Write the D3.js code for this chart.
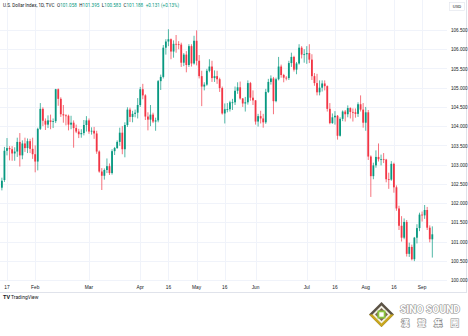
<!DOCTYPE html>
<html><head><meta charset="utf-8">
<script src="https://cdn.jsdelivr.net/npm/d3@7"></script>
<style>html,body{margin:0;padding:0;background:#fff;}svg{display:block;font-family:Roboto,"Liberation Sans",Arial,sans-serif;}</style>
</head><body>
<div id="chart"></div>
<script>
const dates = [
"01-15","01-16","01-17","01-18","01-19","01-22","01-23","01-24","01-25","01-26","01-29","01-30","01-31",
"02-01","02-02","02-05","02-06","02-07","02-08","02-09","02-12","02-13","02-14","02-15","02-16","02-19","02-20","02-21","02-22","02-23","02-26","02-27","02-28","02-29",
"03-01","03-04","03-05","03-06","03-07","03-08","03-11","03-12","03-13","03-14","03-15","03-18","03-19","03-20","03-21","03-22","03-25","03-26","03-27","03-28",
"04-01","04-02","04-03","04-04","04-05","04-08","04-09","04-10","04-11","04-12","04-15","04-16","04-17","04-18","04-19","04-22","04-23","04-24","04-25","04-26","04-29","04-30",
"05-01","05-02","05-03","05-06","05-07","05-08","05-09","05-10","05-13","05-14","05-15","05-16","05-17","05-20","05-21","05-22","05-23","05-24","05-27","05-28","05-29","05-30","05-31",
"06-03","06-04","06-05","06-06","06-07","06-10","06-11","06-12","06-13","06-14","06-17","06-18","06-19","06-20","06-21","06-24","06-25","06-26","06-27","06-28",
"07-01","07-02","07-03","07-04","07-05","07-08","07-09","07-10","07-11","07-12","07-15","07-16","07-17","07-18","07-19","07-22","07-23","07-24","07-25","07-26","07-29","07-30","07-31",
"08-01","08-02","08-05","08-06","08-07","08-08","08-09","08-12","08-13","08-14","08-15","08-16","08-19","08-20","08-21","08-22","08-23","08-26","08-27","08-28","08-29","08-30",
"09-02","09-03","09-04","09-05","09-06"];

const open = [
102.40,102.60,103.36,103.43,103.40,103.29,103.34,103.59,103.24,103.55,103.43,103.61,103.41,
103.27,103.08,103.93,104.45,104.14,104.04,104.15,104.11,104.13,104.96,104.71,104.31,104.28,104.27,104.04,104.09,103.95,103.86,103.79,103.82,104.03,
104.15,103.86,103.88,103.81,103.34,102.82,102.71,102.86,102.96,102.78,103.35,103.43,103.59,103.83,103.40,104.03,104.43,104.24,104.32,104.35,
104.55,104.96,104.80,104.25,104.17,104.30,104.12,104.15,105.17,105.28,106.04,106.20,106.26,105.94,106.14,106.13,106.12,105.65,105.86,105.59,106.08,105.63,
106.22,105.70,105.30,105.03,105.08,105.44,105.55,105.25,105.30,105.22,104.99,104.33,104.44,104.44,104.62,104.62,104.92,105.01,104.72,104.59,104.62,105.12,104.74,
104.67,104.12,104.26,104.20,104.10,104.89,105.15,105.24,104.65,105.22,105.55,105.33,105.26,105.25,105.64,105.80,105.47,105.63,106.04,105.86,
105.87,105.90,105.73,105.30,105.12,104.88,105.00,105.11,105.04,104.45,104.08,104.23,104.27,103.75,104.19,104.38,104.31,104.47,104.37,104.36,104.32,104.57,104.43,
104.09,104.36,103.21,102.70,102.98,103.20,103.14,103.14,103.13,102.62,102.61,103.02,102.41,101.86,101.41,101.10,101.51,100.68,100.86,100.54,101.10,101.35,
101.70,101.68,101.82,101.36,101.058];

const high = [
102.66,103.46,103.69,103.48,103.48,103.45,103.70,103.82,103.63,103.70,103.68,103.67,103.70,
103.50,103.96,104.60,104.49,104.20,104.28,104.30,104.20,104.97,104.98,104.75,104.55,104.31,104.30,104.27,104.15,104.04,103.93,103.92,104.16,104.26,
104.20,103.97,103.98,103.88,103.37,102.91,102.90,103.16,103.03,103.40,103.46,103.63,103.96,104.00,104.10,104.49,104.48,104.40,104.43,104.73,
105.02,105.10,104.83,104.36,104.55,104.35,104.22,105.20,105.34,106.11,106.26,106.52,106.28,106.23,106.37,106.21,106.17,105.90,105.95,106.13,106.13,106.35,
106.49,105.85,105.44,105.14,105.49,105.74,105.70,105.45,105.44,105.26,105.03,104.59,104.60,104.66,104.71,105.03,105.14,105.16,104.73,104.76,105.19,105.15,104.93,
104.68,104.32,104.40,104.32,104.97,105.23,105.32,105.28,105.26,105.80,105.60,105.36,105.30,105.70,105.91,105.83,105.67,106.13,106.08,106.00,
106.08,106.13,105.87,105.38,105.36,105.19,105.19,105.19,105.06,104.60,104.33,104.39,104.29,104.23,104.41,104.42,104.54,104.49,104.46,104.46,104.62,104.80,104.60,
104.50,104.42,103.24,103.05,103.37,103.55,103.26,103.30,103.15,102.79,103.09,103.05,102.46,101.93,101.66,101.60,101.56,100.97,100.92,101.12,101.45,101.75,
101.78,101.95,101.90,101.42,101.395];

const low = [
102.33,102.55,103.24,103.11,103.10,103.10,103.20,102.95,103.14,103.33,103.30,103.30,103.15,
102.80,102.85,103.90,104.00,103.90,103.95,103.92,103.95,104.08,104.53,104.24,104.09,104.02,103.89,103.92,103.44,103.82,103.69,103.70,103.76,103.86,
103.80,103.78,103.67,103.28,102.79,102.34,102.61,102.78,102.73,102.74,103.25,103.41,103.49,103.27,103.19,103.98,104.11,104.10,104.23,104.20,
104.50,104.70,104.16,103.89,104.00,104.08,103.88,104.10,104.94,105.24,105.86,106.08,105.74,105.78,105.91,106.00,105.54,105.56,105.40,105.54,105.55,105.60,
105.58,105.24,104.52,104.93,105.05,105.40,105.15,105.15,105.10,104.89,104.30,104.07,104.36,104.38,104.42,104.55,104.84,104.69,104.50,104.38,104.56,104.66,104.55,
104.04,103.99,104.07,103.96,104.06,104.86,105.08,104.31,104.62,105.19,105.26,105.14,105.19,105.20,105.54,105.42,105.35,105.60,105.76,105.65,
105.62,105.64,105.20,105.05,104.80,104.80,104.90,104.93,104.38,104.05,104.06,104.04,103.65,103.73,104.13,104.12,104.23,104.20,104.12,104.22,104.24,104.38,103.96,
103.88,103.12,102.16,102.62,102.92,103.08,102.98,103.04,102.54,102.37,102.58,102.27,101.80,101.30,101.00,101.06,100.61,100.60,100.51,100.49,100.95,101.27,
101.52,101.59,101.30,100.98,100.583];

const close = [
102.58,103.36,103.43,103.40,103.29,103.34,103.59,103.24,103.55,103.43,103.61,103.41,103.27,
103.08,103.93,104.45,104.14,104.04,104.15,104.11,104.13,104.96,104.71,104.31,104.28,104.27,104.04,104.09,103.95,103.86,103.79,103.82,104.03,104.15,
103.86,103.88,103.81,103.34,102.82,102.71,102.86,102.96,102.78,103.35,103.43,103.59,103.83,103.40,104.03,104.43,104.24,104.32,104.35,104.55,
104.96,104.80,104.25,104.17,104.30,104.12,104.15,105.17,105.28,106.04,106.20,106.26,105.94,106.14,106.13,106.12,105.65,105.86,105.59,106.08,105.63,106.22,
105.70,105.30,105.03,105.08,105.44,105.55,105.25,105.30,105.22,104.99,104.33,104.44,104.44,104.62,104.62,104.92,105.01,104.72,104.59,104.62,105.12,104.74,104.67,
104.12,104.26,104.20,104.10,104.89,105.15,105.24,104.65,105.22,105.55,105.33,105.26,105.25,105.64,105.80,105.47,105.63,106.04,105.86,105.87,
105.90,105.73,105.30,105.12,104.88,105.00,105.11,105.04,104.45,104.08,104.23,104.27,103.75,104.19,104.38,104.31,104.47,104.37,104.36,104.32,104.57,104.43,104.09,
104.36,103.21,102.70,102.98,103.20,103.14,103.14,103.13,102.62,102.61,103.02,102.41,101.86,101.41,101.10,101.51,100.68,100.86,100.54,101.10,101.35,101.70,
101.68,101.82,101.36,101.06,101.188];

const priceTicks = [100,100.5,101,101.5,102,102.5,103,103.5,104,104.5,105,105.5,106,106.5];
const timeTickDates = ["01-17","02-01","03-01","04-01","04-16","05-01","05-16","06-03","07-01","07-16","08-01","08-16","09-02"];
const timeTickLabels = ["17","Feb","Mar","Apr","16","May","16","Jun","Jul","16","Aug","16","Sep"];

const W = 468, H = 336;
const UP = "#089981", DOWN = "#f23645", GRID = "#f0f3fa", TXT = "#131722";

const svg = d3.select("#chart").append("svg").attr("width", W).attr("height", H);

const x = d3.scaleBand().domain(dates).range([0.6, 433.6]).paddingInner(0.3).paddingOuter(0.15);
const y = d3.scaleLinear().domain([100, 106.5]).range([280, 30]);
const cx = d => x(d) + x.bandwidth() / 2;

// grid
const grid = svg.append("g");
grid.selectAll("line.h").data(priceTicks).join("line")
  .attr("x1", 0).attr("x2", 447).attr("y1", d => Math.round(y(d)) + 0.5).attr("y2", d => Math.round(y(d)) + 0.5)
  .attr("stroke", GRID).attr("stroke-width", 1);
grid.selectAll("line.v").data(timeTickDates).join("line")
  .attr("y1", 0).attr("y2", 281).attr("x1", d => Math.round(cx(d)) + 0.5).attr("x2", d => Math.round(cx(d)) + 0.5)
  .attr("stroke", GRID).attr("stroke-width", 1);

// borders
svg.append("line").attr("x1", 0).attr("x2", 466).attr("y1", 292.5).attr("y2", 292.5).attr("stroke", "#e0e3eb");
svg.append("line").attr("x1", 466.5).attr("x2", 466.5).attr("y1", 0).attr("y2", 293).attr("stroke", "#e0e3eb");

// candles
const idx = d3.range(dates.length);
const candles = svg.append("g");
candles.selectAll("line.wick").data(idx).join("line")
  .attr("x1", i => cx(dates[i])).attr("x2", i => cx(dates[i]))
  .attr("y1", i => y(high[i])).attr("y2", i => y(low[i]))
  .attr("stroke", i => close[i] >= open[i] ? UP : DOWN)
  .attr("stroke-width", 0.7);
candles.selectAll("rect.body").data(idx).join("rect")
  .attr("x", i => x(dates[i])).attr("width", x.bandwidth())
  .attr("y", i => y(Math.max(open[i], close[i])))
  .attr("height", i => Math.max(0.8, Math.abs(y(open[i]) - y(close[i]))))
  .attr("fill", i => close[i] >= open[i] ? UP : DOWN);

// price axis
const yAxis = d3.axisRight(y).tickValues(priceTicks).tickSize(0).tickPadding(0).tickFormat(d3.format(".3f"));
const ya = svg.append("g").attr("transform", "translate(451,0)").call(yAxis);
ya.select(".domain").remove();
ya.selectAll("text").attr("fill", TXT).style("font-size", "4.6px").attr("dy", "0.35em");

// time axis
const labelOf = d => timeTickLabels[timeTickDates.indexOf(d)];
const xAxis = d3.axisBottom(x).tickValues(timeTickDates).tickSize(0).tickPadding(0).tickFormat(labelOf);
const xa = svg.append("g").attr("transform", "translate(0,285)").call(xAxis);
xa.select(".domain").remove();
xa.selectAll("text").attr("fill", TXT).style("font-size", "4.8px").attr("dy", "0.35em").attr("y", 2.5);

// USD box
svg.append("rect").attr("x", 449.5).attr("y", 2.5).attr("width", 15).attr("height", 8).attr("fill", "#fff").attr("stroke", "#e0e3eb").attr("stroke-width", 0.6);
svg.append("text").attr("x", 457).attr("y", 8.3).attr("text-anchor", "middle").attr("fill", TXT).style("font-size", "4.4px").text("USD");

// header
const hdr = svg.append("text").attr("x", 3).attr("y", 7).style("font-size", "4.6px").style("white-space", "pre").attr("xml:space", "preserve").attr("fill", TXT);
hdr.append("tspan").text("U.S. Dollar Index, 1D, TVC");
const hv = [["O","101.058"],["H","101.395"],["L","100.583"],["C","101.188"]];
hv.forEach(p => { hdr.append("tspan").attr("dx", 2.5).attr("fill", TXT).text(p[0]); hdr.append("tspan").attr("fill", UP).text(p[1]); });
hdr.append("tspan").attr("dx", 2.5).attr("fill", UP).text("+0.131 (+0.13%)");

// TradingView logo
const tv = svg.append("g");
tv.append("text").attr("x", 3).attr("y", 299).attr("fill", TXT).style("font-size", "5.5px").style("font-weight", "bold").text("TV");
tv.append("text").attr("x", 11).attr("y", 299).attr("fill", TXT).style("font-size", "5px").text("TradingView");

// Sino Sound logo
const lg = svg.append("g").attr("transform", "translate(381.5,314.5)");
lg.append("path").attr("d", "M0,-12.5 L12.5,0 L0,12.5 L-12.5,0Z").attr("fill", "#5b5245");
lg.append("path").attr("d", "M-12.5,0 L12.5,0 L0,12.5Z").attr("fill", "#c9a71e");
lg.append("path").attr("d", "M0,-9 L9,0 L0,9 L-9,0Z").attr("fill", "#f4f1e6");
lg.append("path").attr("d", "M0,-6.5 L6.5,0 L0,6.5 L-6.5,0Z").attr("fill", "#7a6a50");
lg.append("rect").attr("x", -4).attr("y", -4).attr("width", 8).attr("height", 8).attr("fill", "#8cc63f");
lg.append("rect").attr("x", -2.2).attr("y", -2.2).attr("width", 4.4).attr("height", 4.4).attr("fill", "#fff");
svg.append("text").attr("x", 400).attr("y", 313).attr("textLength", 60).attr("lengthAdjust", "spacingAndGlyphs")
  .style("font-size", "10px").style("font-weight", "bold").attr("fill", "#fff").attr("stroke", "#8a8a8a").attr("stroke-width", 1.1)
  .style("paint-order", "stroke").text("SINO SOUND");
svg.append("text").attr("x", 401).attr("y", 326).attr("textLength", 58).attr("lengthAdjust", "spacing")
  .style("font-family", "'Noto Sans CJK TC'").style("font-size", "8.5px").style("font-weight", "bold").attr("fill", "#fff").attr("stroke", "#8a8a8a").attr("stroke-width", 1.1)
  .style("paint-order", "stroke").text("漢聲集團");
</script>
</body></html>
